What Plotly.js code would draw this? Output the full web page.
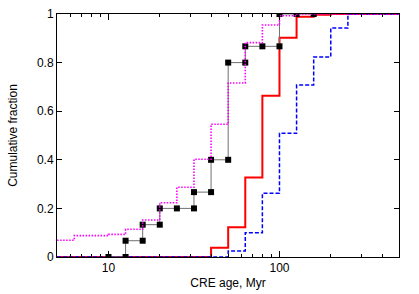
<!DOCTYPE html>
<html>
<head>
<meta charset="utf-8">
<script src="https://cdn.plot.ly/plotly-3.0.1.min.js"></script>
<style>html,body{margin:0;padding:0;background:#fff;}#chart{width:419px;height:294px;}</style>
</head>
<body>
<div id="chart"></div>
<script>
// Bin edges (Myr), 0.1-decade bins
var binEdges = [5.012, 6.310, 7.943, 10.0, 12.59, 15.85, 19.95, 25.12, 31.62, 39.81, 50.12, 63.10, 79.43, 100.0, 125.9, 158.5, 199.5, 251.2, 316.2, 398.1, 501.2];
// cumulative fraction per bin
var redValues = [0, 0, 0, 0, 0, 0, 0, 0, 0, 0.038, 0.122, 0.327, 0.664, 0.902, 0.989, 0.997, 1, 1, 1, 1];
var blueValues = [0, 0, 0, 0, 0, 0, 0, 0, 0, 0, 0.025, 0.10, 0.262, 0.509, 0.708, 0.823, 0.942, 1, 1, 1];
var magentaValues = [0.069, 0.088, 0.088, 0.093, 0.114, 0.152, 0.223, 0.287, 0.402, 0.546, 0.716, 0.882, 0.955, 0.993, 1, 1, 1, 1, 1, 1];
// observed sample (points at step corners)
var obsX = [10.0, 12.59, 12.59, 15.85, 15.85, 19.95, 19.95, 25.12, 31.62, 31.62, 39.81, 39.81, 50.12, 50.12, 63.10, 63.10, 79.43, 100.0, 100.0, 125.9, 158.5];
var obsY = [0, 0, 0.067, 0.067, 0.133, 0.133, 0.2, 0.2, 0.2, 0.267, 0.267, 0.4, 0.4, 0.8, 0.8, 0.867, 0.867, 0.867, 1, 1, 1];
var xTickVals = [10, 100];
var xTickText = ['10', '100'];
var xMinorVals = [6, 7, 8, 9, 20, 30, 40, 50, 60, 70, 80, 90, 200, 300, 400];
var yTickVals = [0, 0.2, 0.4, 0.6, 0.8, 1];
var yTickText = ['0', '0.2', '0.4', '0.6', '0.8', '1'];

function stepY(v) { return v.concat([v[v.length - 1]]); }

var traces = [
  {x: binEdges, y: stepY(redValues), mode: 'lines', line: {shape: 'hv', color: '#ff0000', width: 2}},
  {x: binEdges, y: stepY(blueValues), mode: 'lines', line: {shape: 'hv', color: '#0000ff', width: 1.5, dash: '4px,2px'}},
  {x: obsX, y: obsY, mode: 'lines+markers', line: {color: '#707070', width: 1}, marker: {symbol: 'square', size: 6, color: '#000000'}},
  {x: binEdges, y: stepY(magentaValues), mode: 'lines', line: {shape: 'hv', color: '#ff00ff', width: 1.6, dash: '1.5px,1.5px'}}
];

var font = {family: 'Liberation Sans, Arial, sans-serif', size: 12, color: '#000'};
var layout = {
  width: 419, height: 294,
  margin: {l: 57, r: 20, t: 14, b: 37},
  showlegend: false,
  paper_bgcolor: '#fff', plot_bgcolor: '#fff',
  font: font,
  xaxis: {
    type: 'log', range: [Math.log10(5), Math.log10(500)],
    tickmode: 'array', tickvals: xTickVals, ticktext: xTickText,
    ticks: 'inside', ticklen: 6, tickwidth: 1, tickcolor: '#000',
    minor: {tickmode: 'array', tickvals: xMinorVals, ticks: 'inside', ticklen: 3, tickwidth: 1, tickcolor: '#000', showgrid: false},
    showline: true, linecolor: '#000', linewidth: 1, mirror: 'ticks',
    showgrid: false, zeroline: false,
    title: {text: 'CRE age, Myr', font: font, standoff: 4},
    automargin: false
  },
  yaxis: {
    range: [0, 1],
    tickmode: 'array', tickvals: yTickVals, ticktext: yTickText,
    ticks: 'inside', ticklen: 5, tickwidth: 1, tickcolor: '#000',
    showline: true, linecolor: '#000', linewidth: 1, mirror: 'ticks',
    showgrid: false, zeroline: false,
    title: {text: 'Cumulative fraction', font: font, standoff: 16},
    automargin: false
  }
};
Plotly.newPlot('chart', traces, layout, {staticPlot: true, displayModeBar: false});
</script>
</body>
</html>
